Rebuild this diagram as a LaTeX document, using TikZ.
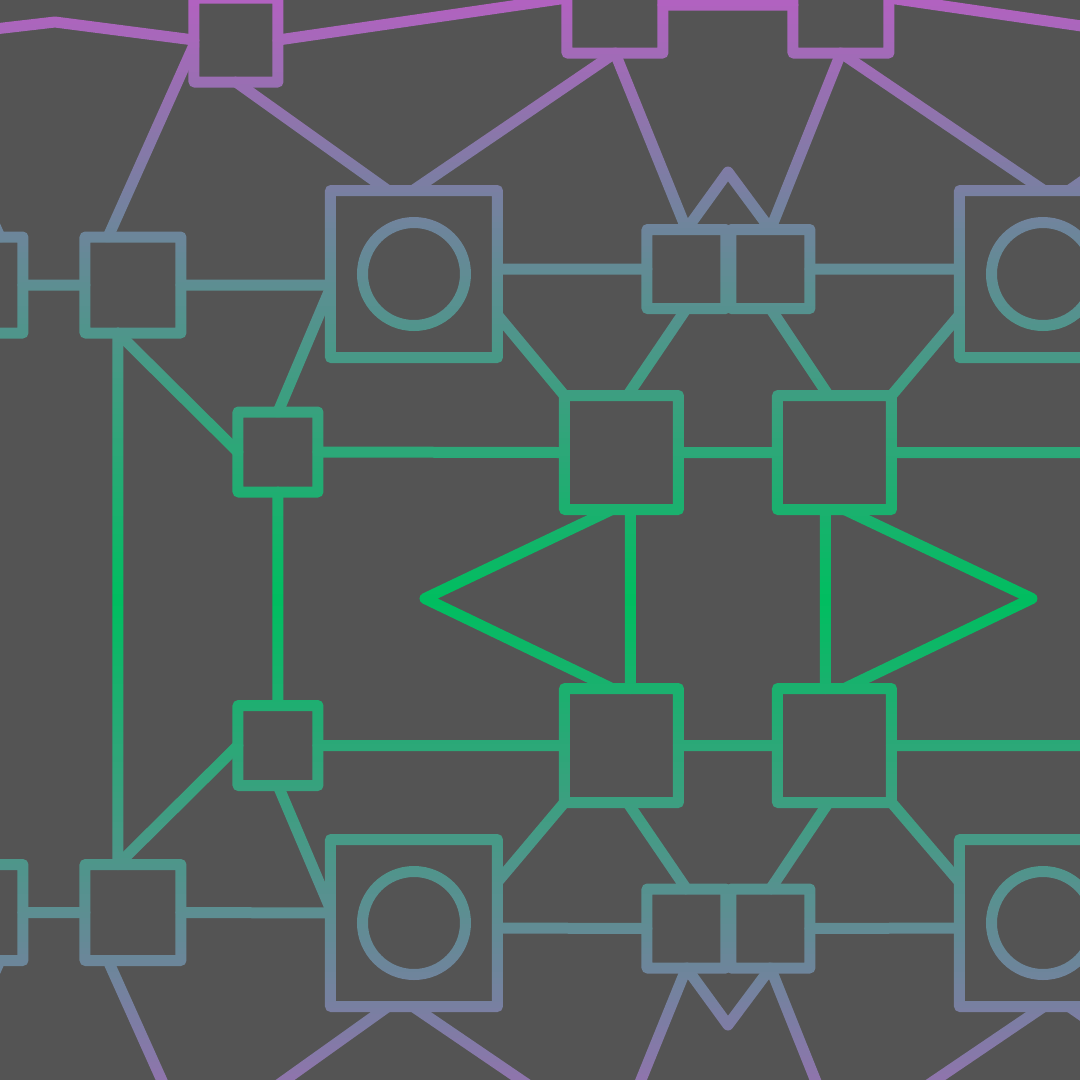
\documentclass[tikz,border=0pt]{standalone}
\usetikzlibrary{calc,fadings}
\definecolor{netbg}{HTML}{545454}
\definecolor{netgreen}{HTML}{00BE60}
\definecolor{netpurple}{HTML}{B262C0}
\tikzset{
  wire/.style={draw=transparent!100,line width=1.1mm,line join=round,line cap=round},
  box/.style={rectangle,draw=transparent!100,line width=1.1mm,line join=round,minimum size=#1,inner sep=0pt,outer sep=0pt},
  ring/.style={circle,draw=transparent!100,line width=1.1mm,minimum size=10.3mm,inner sep=0pt,outer sep=0pt}
}
% grey cover with the network cut out of it
\begin{tikzfadingfrompicture}[name=netholes,x=0.1mm,y=-0.1mm]
\useasboundingbox (-540,-600) rectangle (540,600);
\fill[transparent!0] (-540,-600) rectangle (540,600);
\begin{scope}[shift={(-540,-600)}]
% boxes
\node[box=8.4mm] (t1) at (236,40) {};
\node[box=9.6mm] (t2) at (615,5) {};
\node[box=9.6mm] (t3) at (841,5) {};
\node[box=9.6mm] (l0) at (-25,285) {};
\node[box=9.6mm] (l1) at (133,285) {};
\node[box=16.7mm] (b1) at (414,274) {};
\node[ring] (c1) at (b1.center) {};
\node[box=16.7mm] (b2) at (1043,274) {};
\node[ring] (c2) at (b2.center) {};
\node[box=7.9mm] (s1) at (686.5,269) {};
\node[box=7.9mm] (s2) at (770.5,269) {};
\node[box=8mm] (q1) at (278,452) {};
\node[box=11.4mm] (m1) at (621.5,452.5) {};
\node[box=11.4mm] (m2) at (834.5,452.5) {};
\node[box=8mm] (q2) at (278,745.5) {};
\node[box=11.4mm] (m3) at (621.5,745.5) {};
\node[box=11.4mm] (m4) at (834.5,745.5) {};
\node[box=9.6mm] (l2) at (-25,912.5) {};
\node[box=9.6mm] (l3) at (133,912.5) {};
\node[box=16.7mm] (b3) at (414,923) {};
\node[ring] (c3) at (b3.center) {};
\node[box=16.7mm] (b4) at (1043,923) {};
\node[ring] (c4) at (b4.center) {};
\node[box=7.9mm] (s3) at (686.5,928.5) {};
\node[box=7.9mm] (s4) at (770.5,928.5) {};
% bends and points off the page
\coordinate (kink) at (55,22);
\coordinate (farleft) at (-40,33);
\coordinate (farright) at (1178,40);
\coordinate (peaktop) at (728,172);
\coordinate (peakbot) at (728,1025);
\coordinate (tipleft) at (425,598.5);
\coordinate (tipright) at (1032,598.5);
\coordinate (offne) at (1221,85);
\coordinate (offse) at (1221,1112);
\coordinate (offe1) at (1179,452.5);
\coordinate (offe2) at (1179,745.5);
\coordinate (offnw) at (-85,45);
\coordinate (offsw) at (-85,1152);
\coordinate (t1m) at (236,1115);
\coordinate (t1mw) at (194,1152);
\coordinate (t2m) at (615,1144);
\coordinate (t3m) at (841,1144);
% top row
\draw[wire] (farleft) -- (kink) -- (t1.west);
\draw[wire] (t1.east) -- ($(t2.west)+(0,-7)$);
\draw[wire] (t2.east) -- (t3.west);
\draw[wire] ($(t3.east)+(0,-7)$) -- (farright);
\draw[wire] ($(t1.west)+(0,5)$) -- ($(l1.north)+(-25,0)$);
\draw[wire] (t1.south) -- ($(b1.north)+(-26,0)$);
\draw[wire] (t2.south) -- ($(b1.north)+(-1,0)$);
\draw[wire] (t2.south) -- (s1.north);
\draw[wire] (s1.north) -- (peaktop) -- (s2.north);
\draw[wire] (t3.south) -- (s2.north);
\draw[wire] (t3.south) -- ($(b2.north)+(1,0)$);
\draw[wire] ($(b2.north)+(26,0)$) -- (offne);
% upper band
\draw[wire] ($(l0.north)+(25,0)$) -- (offnw);
\draw[wire] (l0.east) -- (l1.west);
\draw[wire] (l1.east) -- ($(b1.west)+(0,11)$);
\draw[wire] ($(l1.south)+(-15,0)$) -- ($(l3.north)+(-15,0)$);
\draw[wire] ($(l1.south)+(-15,0)$) -- (q1.west);
\draw[wire] (q1.north) -- ($(b1.west)+(0,14)$);
\draw[wire] (q1.east) -- (m1.west);
\draw[wire] (q1.south) -- (q2.north);
\draw[wire] ($(b1.east)+(0,-5)$) -- (s1.west);
\draw[wire] (s2.east) -- ($(b2.west)+(0,-5)$);
\draw[wire] ($(b1.east)+(0,41)$) -- (m1.north west);
\draw[wire] ($(b2.west)+(0,41)$) -- (m2.north east);
\draw[wire] (s1.south) -- ($(m1.north)+(6,0)$);
\draw[wire] (s2.south) -- ($(m2.north)+(-6,0)$);
\draw[wire] (m1.east) -- (m2.west);
\draw[wire] (m2.east) -- (offe1);
% middle
\draw[wire] ($(m1.south)+(-9.5,0)$) -- (tipleft) -- ($(m3.north)+(-9.5,0)$);
\draw[wire] ($(m1.south)+(9,0)$) -- ($(m3.north)+(9,0)$);
\draw[wire] ($(m2.south)+(10,0)$) -- (tipright) -- ($(m4.north)+(10,0)$);
\draw[wire] ($(m2.south)+(-9,0)$) -- ($(m4.north)+(-9,0)$);
% lower band
\draw[wire] (q2.east) -- (m3.west);
\draw[wire] (m3.east) -- (m4.west);
\draw[wire] (m4.east) -- (offe2);
\draw[wire] ($(l3.north)+(-15,0)$) -- (q2.west);
\draw[wire] (q2.south) -- ($(b3.west)+(0,-14)$);
\draw[wire] (l2.east) -- (l3.west);
\draw[wire] (l3.east) -- ($(b3.west)+(0,-10)$);
\draw[wire] ($(l2.south)+(25,0)$) -- (offsw);
\draw[wire] ($(l3.south)+(-25,0)$) -- (t1mw);
\draw[wire] ($(b3.east)+(0,-41)$) -- (m3.south west);
\draw[wire] ($(b4.west)+(0,-41)$) -- (m4.south east);
\draw[wire] ($(b3.east)+(0,5)$) -- (s3.west);
\draw[wire] (s4.east) -- ($(b4.west)+(0,5)$);
\draw[wire] ($(m3.south)+(6,0)$) -- (s3.north);
\draw[wire] ($(m4.south)+(-6,0)$) -- (s4.north);
% bottom row
\draw[wire] (s3.south) -- (peakbot) -- (s4.south);
\draw[wire] (s3.south) -- (t2m);
\draw[wire] (s4.south) -- (t3m);
\draw[wire] ($(b3.south)+(-26,0)$) -- (t1m);
\draw[wire] ($(b3.south)+(-1,0)$) -- (t2m);
\draw[wire] ($(b4.south)+(1,0)$) -- (t3m);
\draw[wire] ($(b4.south)+(26,0)$) -- (offse);
\end{scope}
\end{tikzfadingfrompicture}

\begin{document}
\begin{tikzpicture}[x=0.1mm,y=-0.1mm]
\useasboundingbox (-540,-600) rectangle (540,480);
\begin{scope}
\clip (-540,-600) rectangle (540,480);
% colour bands, green at the middle line, purple further out
\foreach \y in {0,6,...,1074}{
  \pgfmathsetmacro\pct{min(100,abs(\y+3-600)/6)}
  \fill[netpurple!\pct!netgreen] (-540,\y-600) rectangle (540,\y-593);
}
\fill[netbg,path fading=netholes,fit fading=false] (-540,-600) rectangle (540,600);
\end{scope}
\end{tikzpicture}
\end{document}
